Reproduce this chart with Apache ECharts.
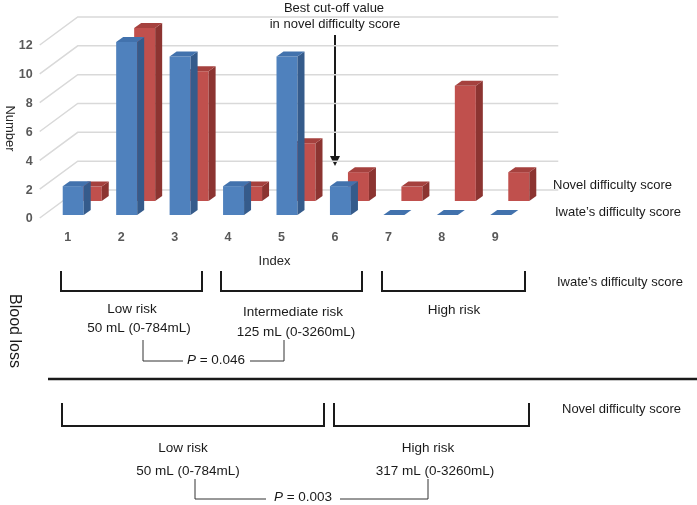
<!DOCTYPE html>
<html>
<head>
<meta charset="utf-8">
<script src="https://cdn.jsdelivr.net/npm/echarts@6.0.0/dist/echarts.min.js"></script>
<style>
  html, body { margin: 0; padding: 0; background: #fff; }
  #chart { width: 697px; height: 505px; }
</style>
</head>
<body>
<div id="chart"></div>
<script>
const categories = ["1", "2", "3", "4", "5", "6", "7", "8", "9"];
const iwateScore = [2, 12, 11, 2, 11, 2, 0, 0, 0];
const novelScore = [1, 12, 9, 1, 4, 2, 1, 8, 2];
const yTicks = [0, 2, 4, 6, 8, 10, 12];

const FONT = "'Liberation Sans', Arial, sans-serif";
const BAR_W = 21;   // front face width
const DEPTH_X = 7;  // 3d depth offset
const DEPTH_Y = 5;

// draws a 3d column: front face, side face and top face
function bar3d(shiftX, shiftY, colors) {
  return function (params, api) {
    const i = api.value(0);
    const v = api.value(1);
    const base = api.coord([i, 0]);
    const top = api.coord([i, v]);
    const cx = base[0] + shiftX;
    const x0 = cx - BAR_W / 2;
    const x1 = cx + BAR_W / 2;
    const yb = base[1] - shiftY;
    const yt = top[1] - shiftY;
    return {
      type: "group",
      children: [
        {
          type: "rect",
          shape: { x: x0, y: yt, width: BAR_W, height: yb - yt },
          style: { fill: colors[0] },
        },
        {
          type: "polygon",
          shape: { points: [[x1, yb], [x1, yt], [x1 + DEPTH_X, yt - DEPTH_Y], [x1 + DEPTH_X, yb - DEPTH_Y]] },
          style: { fill: colors[1] },
        },
        {
          type: "polygon",
          shape: { points: [[x0, yt], [x1, yt], [x1 + DEPTH_X, yt - DEPTH_Y], [x0 + DEPTH_X, yt - DEPTH_Y]] },
          style: { fill: colors[2] },
        },
      ],
    };
  };
}

// gridlines (floor diagonal then back wall) plus the tick label
function gridLine(params, api) {
  const v = api.value(1);
  const p = api.coord([0, v]);
  const last = api.coord([categories.length - 1, v]);
  const x0 = p[0] - 28;
  const y = p[1] + 3;
  return {
    type: "group",
    children: [
      {
        type: "polyline",
        shape: { points: [[x0, y], [x0 + 38, y - 28], [last[0] + 63, y - 28]] },
        style: { stroke: "#d9d9d9", lineWidth: 1.5, fill: null },
      },
      {
        type: "text",
        x: x0 - 7,
        y: y + 1,
        style: {
          text: String(v),
          fill: "#595959",
          fontWeight: "bold",
          fontSize: 12.5,
          fontFamily: FONT,
          align: "right",
          verticalAlign: "middle",
        },
      },
    ],
  };
}

function txt(text, x, y, opts) {
  opts = opts || {};
  return {
    type: "text",
    x: x,
    y: y,
    rotation: opts.rotation || 0,
    style: {
      text: text,
      fill: opts.color || "#1a1a1a",
      fontSize: opts.size || 13.5,
      fontFamily: FONT,
      align: opts.align || "center",
      verticalAlign: "middle",
      rich: { i: { fontStyle: "italic", fontSize: opts.size || 13.5, fontFamily: FONT, fill: "#1a1a1a" } },
    },
  };
}

function bracket(xl, xr, yt, yb, w) {
  return {
    type: "polyline",
    shape: { points: [[xl, yt], [xl, yb], [xr, yb], [xr, yt]] },
    style: { stroke: "#1a1a1a", lineWidth: w || 2, fill: null },
  };
}

function line(pts, w, color) {
  return {
    type: "polyline",
    shape: { points: pts },
    style: { stroke: color || "#1a1a1a", lineWidth: w, fill: null },
  };
}

const chart = echarts.init(document.getElementById("chart"));

const option = {
  animation: false,
  grid: { left: 41, right: 175, top: 42, bottom: 290, containLabel: false, outerBoundsMode: "none" },
  xAxis: {
    type: "category",
    data: categories,
    axisLine: { show: false },
    axisTick: { show: false },
    axisLabel: { margin: 16, color: "#595959", fontWeight: "bold", fontSize: 12.5, fontFamily: FONT },
    name: "Index",
    nameLocation: "middle",
    nameGap: 40,
    nameTextStyle: { color: "#262626", fontSize: 13, fontFamily: FONT, padding: [0, 14, 0, 0] },
  },
  yAxis: {
    type: "value",
    min: 0,
    max: 12,
    interval: 2,
    axisLine: { show: false },
    axisTick: { show: false },
    splitLine: { show: false },
    axisLabel: { show: false },
    name: "Number",
    nameLocation: "middle",
    nameGap: 25,
    nameRotate: -90,
    nameTextStyle: { color: "#262626", fontSize: 13, fontFamily: FONT },
  },
  series: [
    {
      type: "custom",
      z: 1,
      silent: true,
      renderItem: gridLine,
      data: yTicks.map((v) => [0, v]),
    },
    {
      name: "Novel difficulty score",
      type: "custom",
      z: 2,
      renderItem: bar3d(23.5, 14, ["#c0504d", "#8c3431", "#a5413e"]),
      data: novelScore.map((v, i) => [i, v]),
    },
    {
      name: "Iwate's difficulty score",
      type: "custom",
      z: 3,
      renderItem: bar3d(5.5, 0, ["#4f81bd", "#355b8b", "#4272ad"]),
      data: iwateScore.map((v, i) => [i, v]),
    },
  ],
  graphic: [
    // cut-off annotation
    txt("Best cut-off value", 334, 8, { size: 13 }),
    txt("in novel difficulty score", 335, 24, { size: 13 }),
    line([[335, 35], [335, 157]], 2),
    { type: "polygon", shape: { points: [[330, 156], [340, 156], [335, 166]] }, style: { fill: "#1a1a1a" } },

    // series labels
    txt("Novel difficulty score", 553, 185, { size: 13, align: "left" }),
    txt("Iwate\u2019s difficulty score", 555, 212, { size: 13, align: "left" }),

    // blood loss panel
    txt("Blood loss", 14, 331, { size: 16, rotation: -Math.PI / 2 }),
    line([[48, 379], [697, 379]], 2.5),

    // Iwate's groups
    bracket(61, 202, 271, 291),
    bracket(221, 362, 271, 291),
    bracket(382, 525, 271, 291),
    txt("Iwate\u2019s difficulty score", 557, 282, { size: 13, align: "left" }),
    txt("Low risk", 132, 309),
    txt("50 mL (0-784mL)", 139, 328),
    txt("Intermediate risk", 293, 312),
    txt("125 mL (0-3260mL)", 296, 332),
    txt("High risk", 454, 310),
    line([[143, 340], [143, 361], [183, 361]], 1, "#333"),
    line([[250, 361], [284, 361], [284, 340]], 1, "#333"),
    txt("{i|P} = 0.046", 216, 360),

    // Novel groups
    bracket(62, 324, 403, 426),
    bracket(334, 529, 403, 426),
    txt("Novel difficulty score", 562, 409, { size: 13, align: "left" }),
    txt("Low risk", 183, 448),
    txt("50 mL (0-784mL)", 188, 471),
    txt("High risk", 428, 448),
    txt("317 mL (0-3260mL)", 435, 471),
    line([[195, 479], [195, 499], [266, 499]], 1, "#333"),
    line([[340, 499], [428, 499], [428, 479]], 1, "#333"),
    txt("{i|P} = 0.003", 303, 497),
  ],
};

chart.setOption(option);
window.addEventListener("resize", function () {
  chart.resize();
});
</script>
</body>
</html>
